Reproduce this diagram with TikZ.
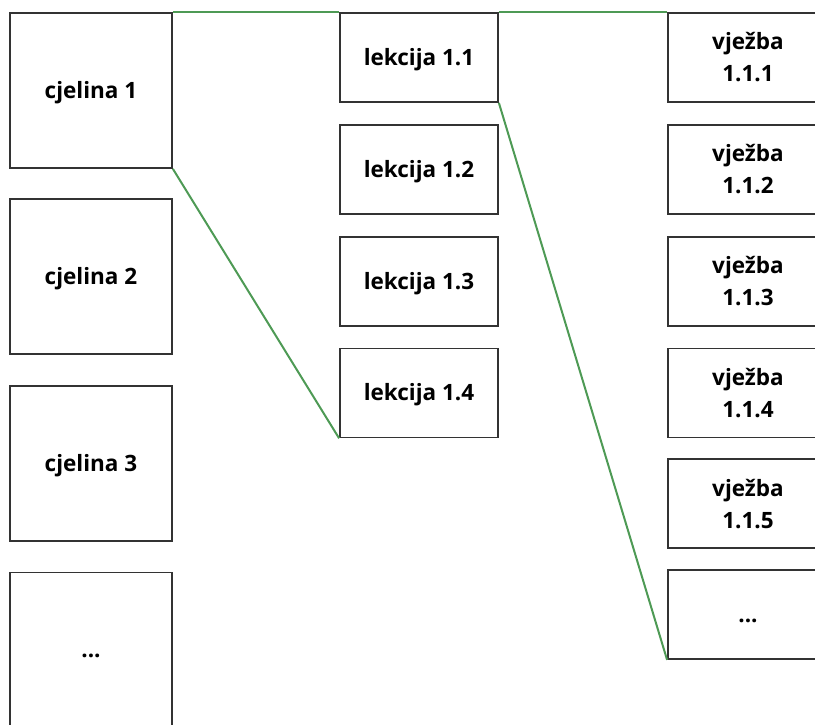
\documentclass[tikz,border=0pt]{standalone}
\usepackage{fontspec}
\setmainfont{Open Sans}
\usepackage{tikz}
\usetikzlibrary{positioning}
\usepackage{xcolor}
\definecolor{boxgray}{HTML}{333333}
\definecolor{linkgreen}{HTML}{4E9A55}

\begin{document}
\begin{tikzpicture}[
        x=1pt, y=-1pt,
        box/.style={
          draw=boxgray,
          line width=1.8pt,
          rectangle,
          inner sep=0pt,
          align=center,
          font=\fontsize{22.5}{32}\bfseries\selectfont
        },
        oneline/.style={
          text height=17pt,
          text depth=1pt
        },
        unit/.style={
          box, oneline,
          minimum width=162pt,
          minimum height=155pt
        },
        lesson/.style={
          box, oneline,
          minimum width=158pt,
          minimum height=89pt
        },
        exercise/.style={
          box,
          minimum width=160pt,
          minimum height=89pt
        },
        link/.style={draw=linkgreen, line width=2pt}
      ]

      \useasboundingbox (0,0) rectangle (815,724);
      \clip (0,0) rectangle (815,724);

      % Units (left column)
      \node[unit] (cj1) at (91,90.5) {cjelina 1};
      \node[unit, below=29pt of cj1] (cj2) {cjelina 2};
      \node[unit, below=30pt of cj2] (cj3) {cjelina 3};
      \node[unit, below=30pt of cj3] (cjdots) {...};

      % Lessons (middle column)
      \node[lesson] (lk1) at (419,57.5) {lekcija 1.1};
      \node[lesson, below=21pt of lk1] (lk2) {lekcija 1.2};
      \node[lesson, below=21pt of lk2] (lk3) {lekcija 1.3};
      \node[lesson, below=21pt of lk3] (lk4) {lekcija 1.4};

      % Exercises (right column)
      \node[exercise] (vj1) at (748,57.5) {vježba\\1.1.1};
      \node[exercise, below=21pt of vj1] (vj2) {vježba\\1.1.2};
      \node[exercise, below=21pt of vj2] (vj3) {vježba\\1.1.3};
      \node[exercise, below=21pt of vj3] (vj4) {vježba\\1.1.4};
      \node[exercise, below=20pt of vj4] (vj5) {vježba\\1.1.5};
      \node[exercise, oneline, below=20pt of vj5] (vjdots) {...};

      % Expansion of cjelina 1
      \draw[link] (cj1.north east) -- (lk1.north west);
      \draw[link] (cj1.south east) -- (lk4.south west);

      % Expansion of lekcija 1.1
      \draw[link] (lk1.north east) -- (vj1.north west);
      \draw[link] (lk1.south east) -- (vjdots.south west);

    \end{tikzpicture}
\end{document}
